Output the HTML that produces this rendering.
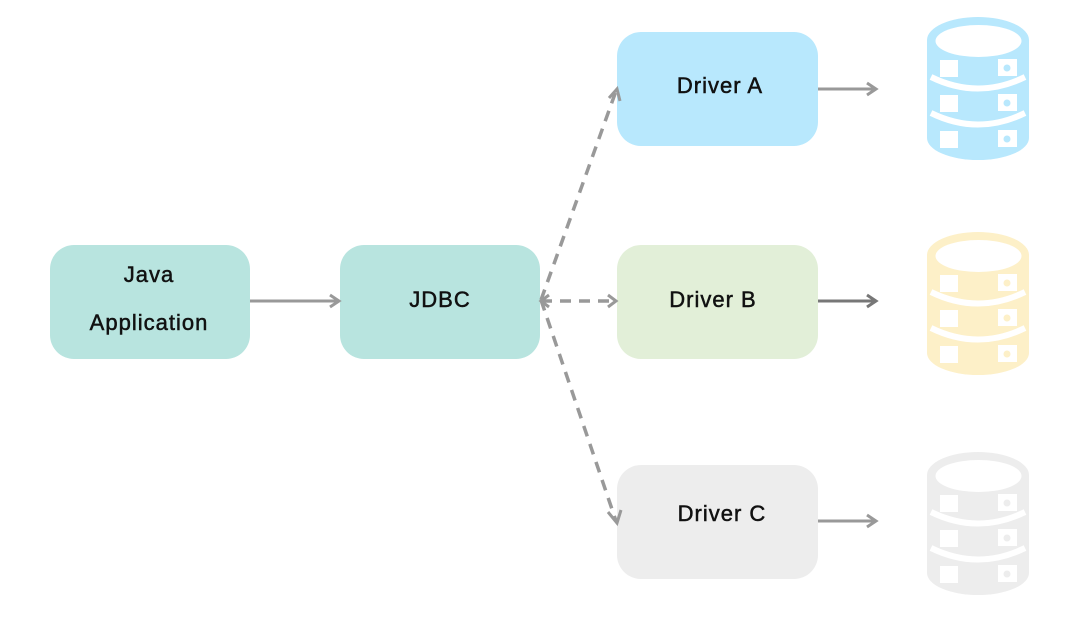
<!DOCTYPE html>
<html><head><meta charset="utf-8"><style>
html,body{margin:0;padding:0;background:#fff;}
svg text{font-family:"Liberation Sans",sans-serif;font-size:22px;letter-spacing:1px;fill:#111;stroke:#111;stroke-width:0.5;text-anchor:middle;}
</style></head><body>
<svg width="1080" height="620" viewBox="0 0 1080 620" xmlns="http://www.w3.org/2000/svg">
<defs>
<g id="db">
<path d="M927,40 A51,23 0 0 1 1029,40 L1029,138 A51,22 0 0 1 927,138 Z"/>
<ellipse cx="978.5" cy="41" rx="43" ry="16" fill="#fff"/>
<path d="M931,77 Q978,100 1025,77" fill="none" stroke="#fff" stroke-width="6"/>
<path d="M931,113 Q978,136 1025,113" fill="none" stroke="#fff" stroke-width="6"/>
<rect x="940" y="60" width="18" height="17" fill="#fff"/>
<rect x="940" y="95" width="18" height="17" fill="#fff"/>
<rect x="940" y="131" width="18" height="17" fill="#fff"/>
<rect x="998" y="59" width="19" height="17" fill="#fff"/>
<rect x="998" y="94" width="19" height="17" fill="#fff"/>
<rect x="998" y="130" width="19" height="17" fill="#fff"/>
<circle cx="1007" cy="68" r="3.5"/>
<circle cx="1007" cy="103" r="3.5"/>
<circle cx="1007" cy="139" r="3.5"/>
</g>
</defs>
<rect x="50" y="245" width="200" height="114" rx="24" fill="#b8e4df"/>
<rect x="340" y="245" width="200" height="114" rx="24" fill="#b8e4df"/>
<rect x="617" y="32" width="201" height="114" rx="24" fill="#b8e8fd"/>
<rect x="617" y="245" width="201" height="114" rx="24" fill="#e2efd8"/>
<rect x="617" y="465" width="201" height="114" rx="24" fill="#ededed"/>
<text x="149" y="282">Java</text>
<text x="149" y="330">Application</text>
<text x="440" y="307">JDBC</text>
<text x="720" y="93">Driver A</text>
<text x="713" y="307">Driver B</text>
<text x="722" y="521">Driver C</text>
<g stroke="#999" stroke-width="3" fill="none">
<line x1="250" y1="301" x2="338" y2="301"/>
<path d="M330,295 L339,301 L330,307"/>
<line x1="818" y1="89" x2="875" y2="89"/>
<path d="M867,83 L876,89 L867,95"/>
<line x1="818" y1="521" x2="875" y2="521"/>
<path d="M867,515 L876,521 L867,527"/>
</g>
<g stroke="#777" stroke-width="3" fill="none">
<line x1="818" y1="301" x2="875" y2="301"/>
<path d="M867,295 L876,301 L867,307"/>
</g>
<g stroke="#999" stroke-width="3.5" stroke-dasharray="11,8" fill="none">
<line x1="541" y1="300" x2="616" y2="91"/>
<line x1="541" y1="301" x2="614" y2="301"/>
<line x1="541" y1="300" x2="616" y2="521"/>
</g>
<g stroke="#999" stroke-width="3" fill="none">
<path d="M549,295 L541,301 L549,307"/>
<path d="M608,295 L616,301 L608,307"/>
<path d="M609,98 L617,89 L620,101"/>
<path d="M608,512 L617,523 L621,510"/>
</g>
<g fill="#b8e8fd"><use href="#db"/></g>
<g fill="#fdf0c8" transform="translate(0,215)"><use href="#db"/></g>
<g fill="#ededed" transform="translate(0,435)"><use href="#db"/></g>
</svg>
</body></html>
